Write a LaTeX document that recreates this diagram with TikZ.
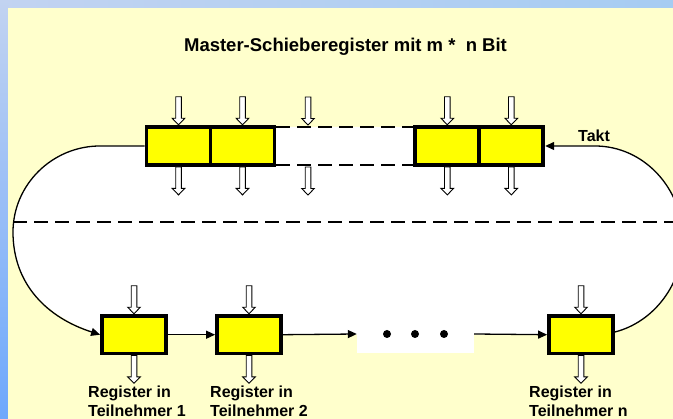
\documentclass[tikz,border=0pt]{standalone}
\usepackage{fontspec}
\setmainfont{Liberation Sans}
\usetikzlibrary{arrows.meta}
\definecolor{paper}{HTML}{FFFFCC}
\definecolor{regfill}{HTML}{FFFF00}
\definecolor{edgeA}{HTML}{C2D3F1}
\definecolor{edgeB}{HTML}{6EA8FC}
\definecolor{edgeC}{HTML}{ECE4F6}
\definecolor{edgeD}{HTML}{A6CCF2}
\begin{document}
\begin{tikzpicture}[x=1pt,y=-1pt,
  reg/.style={draw=black, fill=regfill, line width=3.8pt, inner sep=0pt,
              minimum width=64pt, minimum height=38pt},
  wire/.style={line width=1.3pt, -{Triangle[length=9pt,width=8pt]}},
  gapline/.style={line width=1.5pt, dash pattern=on 14pt off 7pt},
  lbl/.style={font=\fontsize{16}{18.5}\selectfont\bfseries, align=left,
              inner sep=0pt, anchor=north west},
  pics/hollowdown/.style={code={
    \draw[fill=white, line width=0.9pt, line join=miter]
      (-2.8,-#1) -- (2.8,-#1) -- (2.8,-6.5) -- (6.3,-6.5) -- (0,0)
      -- (-6.3,-6.5) -- (-2.8,-6.5) -- cycle;}}
]
\useasboundingbox (0,0) rectangle (673,419);
\clip (0,0) rectangle (673,419);

% page background with shaded frame
\fill[paper] (0,0) rectangle (673,419);
\shade[left color=edgeA, middle color=edgeC, right color=edgeD] (0,0) rectangle (673,8);
\shade[top color=edgeA, bottom color=edgeB] (0,0) rectangle (8,419);
\fill[paper] (8,8) rectangle (673,419);

% white interior of the ring
\fill[white] (100,146) -- (275,146) -- (275,127) -- (415,127) -- (415,146) -- (595,146)
  .. controls (643.6,146) and (683,188) .. (683,240)
  .. controls (683,284) and (654,322) .. (614,332) -- (614,334.7)
  -- (102,334.7)
  .. controls (48,318) and (13,285) .. (13,232)
  .. controls (13,185) and (52,146) .. (100,146) -- cycle;

% title
\node[font=\fontsize{18.5}{22}\selectfont\bfseries, anchor=base, inner sep=0pt]
  (title) at (345.5,52) {Master-Schieberegister mit m *\ \ n Bit};

% master shift register
\node[reg] (t1) at (178.5,146) {};
\node[reg] (t2) at (242.5,146) {};
\node[reg] (t3) at (447.3,146) {};
\node[reg] (t4) at (511.3,146) {};
\coordinate (gapTop) at (308,127);
\coordinate (gapBot) at (308,165);

\draw[gapline] ([yshift=-1.9pt]t2.north east) -- ([yshift=-1.9pt]t3.north west);
\draw[gapline] ([yshift=1.9pt]t2.south east) -- ([yshift=1.9pt]t3.south west);

% parallel inputs and outputs of the master register
\foreach \n in {t1,t2,t3,t4}{
  \pic at ([yshift=0.3pt]\n.north) {hollowdown=28};
  \pic at ([yshift=-28pt]\n.south) {hollowdown=28};
}
\pic at ([yshift=2pt]gapTop) {hollowdown=28};
\pic at ([yshift=-30pt]gapBot) {hollowdown=28};

\node[font=\fontsize{16}{19}\selectfont\bfseries, anchor=base west, inner sep=0pt]
  (takt) at (578,142) {Takt};

% middle separation line
\coordinate (midL) at (13,222);
\coordinate (midR) at (673,222);
\draw[gapline] (midL) -- (midR);

% slave registers
\node[reg, minimum height=37.5pt] (b1) at (134,334.7) {};
\node[reg, minimum height=37.5pt] (b2) at (249,334.7) {};
\node[fill=white, inner sep=0pt, minimum width=117pt, minimum height=38pt] (gap) at (415.5,334) {};
\node[reg, minimum height=37.5pt] (bn) at (581,334.7) {};
\foreach \x in {387,415,444} \fill (\x,334) circle (4pt);

\foreach \n in {b1,b2,bn}{
  \pic at ([yshift=0.3pt]\n.north) {hollowdown=28};
  \pic at ([yshift=-28pt]\n.south) {hollowdown=28};
}

% ring connections
\draw[wire] (b1.east) -- (b2.west);
\draw[wire] (b2.east) -- (gap.west);
\draw[wire] (gap.east) -- (bn.west);
\draw[wire] (t1.west) -- (100,146)
  .. controls (52,146) and (13,185) .. (13,232)
  .. controls (13,285) and (48,318) .. (b1.west);
\draw[wire] ([yshift=2.7pt]bn.east)
  .. controls (654,322) and (683,284) .. (683,240)
  .. controls (683,188) and (643.6,146) .. (595,146) -- (t4.east);

% labels
\node[lbl] (l1) at (88,386) {Register in\\Teilnehmer 1};
\node[lbl] (l2) at (210,386) {Register in\\Teilnehmer 2};
\node[lbl] (ln) at (529,386) {Register in\\Teilnehmer n};
\end{tikzpicture}
\end{document}
